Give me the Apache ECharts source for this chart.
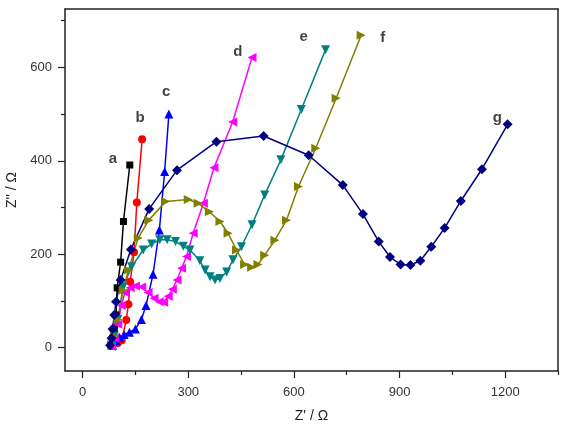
<!DOCTYPE html>
<html>
<head>
<meta charset="utf-8">
<script src="https://cdn.jsdelivr.net/npm/echarts@6/dist/echarts.min.js"></script>
<style>
    html, body {margin: 0; padding: 0; background: #fff;}
    #main {width: 564px; height: 430px;}
</style>
</head>
<body>
<div id="main"></div>
<script>
    // Z' / Z'' pairs
    var curveA = [[80, 5], [85, 20], [90, 40], [95, 70], [98, 128], [108, 183], [116, 270], [134, 391]];
    var curveB = [[85, 5], [100, 10], [111, 16], [124, 59], [130, 93], [135, 141], [146, 204], [154, 311], [169, 446]];
    var curveC = [[85, 5], [95, 15], [105, 22], [118, 28], [133, 33], [150, 40], [167, 60], [180, 90], [200, 157],
        [218, 252], [233, 377], [245, 500]];
    var curveD = [[82, 3], [90, 20], [100, 50], [110, 90], [120, 118], [135, 128], [150, 132], [168, 130], [186, 118],
        [203, 106], [218, 98], [230, 97], [243, 110], [255, 125], [268, 145], [281, 170], [295, 195], [314, 245],
        [343, 309], [373, 385], [426, 483], [481, 621]];
    var curveE = [[82, 5], [90, 25], [100, 60], [115, 130], [139, 173], [172, 209], [196, 222], [219, 231], [240, 231],
        [264, 227], [286, 217], [305, 209], [333, 186], [348, 166], [362, 152], [376, 145], [390, 148], [409, 162],
        [427, 188], [451, 216], [481, 263], [517, 327], [563, 402], [621, 510], [690, 638]];
    var curveF = [[82, 5], [90, 25], [100, 60], [115, 123], [130, 166], [158, 235], [188, 273], [236, 313], [300, 317],
        [328, 309], [360, 291], [390, 270], [413, 245], [437, 209], [460, 178], [480, 172], [498, 178], [517, 198],
        [546, 230], [579, 273], [613, 345], [662, 427], [720, 534], [791, 669]];
    var curveG = [[78, 5], [82, 20], [85, 40], [90, 70], [95, 98], [108, 145], [137, 210], [189, 297], [268, 380],
        [380, 441], [514, 453], [642, 412], [739, 348], [796, 286], [841, 227], [873, 194], [903, 178], [931, 177],
        [959, 186], [990, 216], [1028, 256], [1074, 314], [1134, 382], [1207, 478]];

    var curveNames = ['a', 'b', 'c', 'd', 'e', 'f', 'g'];
    var tagPos = [[86, 404], [163, 493], [237, 547], [441, 633], [628, 665], [852, 663], [1178, 491]];

    var xMajor = [0, 300, 600, 900, 1200];
    var xMinor = [150, 450, 750, 1050, 1350];
    var yMajor = [0, 200, 400, 600];
    var yMinor = [100, 300, 500, 700];

    var chart = echarts.init(document.getElementById('main'));

    function curve(name, data, color, symbol, size, rotate) {
        return {
            name: name, type: 'line', data: data,
            xAxisIndex: 0, yAxisIndex: 0,
            symbol: symbol, symbolSize: size, symbolRotate: rotate || 0,
            showAllSymbol: true,
            lineStyle: {color: color, width: 1.5},
            itemStyle: {color: color},
            animation: false
        };
    }

    var plain = {show: false};
    var font = 'Liberation Sans, Arial, sans-serif';
    var lbl = {fontFamily: font, fontSize: 13, color: '#333', formatter: function (v) { return String(v); }};
    var edge = {onZero: false, lineStyle: {color: '#222', width: 1.5}};

    chart.setOption({
        animation: false,
        grid: {left: 65, right: 6, top: 9, bottom: 59, containLabel: false, outerBoundsMode: 'none'},
        xAxis: [
            {
                type: 'value', min: -50, max: 1350, position: 'bottom',
                name: "Z' / Ω", nameLocation: 'middle', nameGap: 38,
                nameTextStyle: {fontFamily: font, fontSize: 14, color: '#222'},
                axisLine: edge,
                axisTick: {show: true, length: 7, customValues: xMajor, lineStyle: {color: '#222', width: 1.2}},
                axisLabel: Object.assign({customValues: xMajor, margin: 15}, lbl),
                splitLine: plain
            },
            {
                type: 'value', min: -50, max: 1350, position: 'top',
                axisLine: edge,
                axisTick: plain, axisLabel: plain, splitLine: plain
            },
            {
                type: 'value', min: -50, max: 1350, position: 'bottom',
                axisLine: {show: false, onZero: false},
                axisTick: {show: true, length: 4, customValues: xMinor, lineStyle: {color: '#222', width: 1.2}},
                axisLabel: plain, splitLine: plain
            }
        ],
        yAxis: [
            {
                type: 'value', min: -50, max: 725, position: 'left',
                name: "Z'' / Ω", nameLocation: 'middle', nameGap: 44,
                nameTextStyle: {fontFamily: font, fontSize: 14, color: '#222'},
                axisLine: edge,
                axisTick: {show: true, length: 7, customValues: yMajor, lineStyle: {color: '#222', width: 1.2}},
                axisLabel: Object.assign({customValues: yMajor, margin: 13}, lbl),
                splitLine: plain
            },
            {
                type: 'value', min: -50, max: 725, position: 'right',
                axisLine: edge,
                axisTick: plain, axisLabel: plain, splitLine: plain
            },
            {
                type: 'value', min: -50, max: 725, position: 'left',
                axisLine: {show: false, onZero: false},
                axisTick: {show: true, length: 4, customValues: yMinor, lineStyle: {color: '#222', width: 1.2}},
                axisLabel: plain, splitLine: plain
            }
        ],
        series: [
            curve('a', curveA, '#000000', 'rect', 7),
            curve('b', curveB, '#ff0000', 'circle', 8),
            curve('c', curveC, '#0000ff', 'triangle', 9),
            curve('d', curveD, '#ff00ff', 'triangle', 9, 90),
            curve('e', curveE, '#008080', 'triangle', 9, 180),
            curve('f', curveF, '#808000', 'triangle', 9, -90),
            curve('g', curveG, '#000080', 'diamond', 10),
            {
                type: 'scatter', symbolSize: 0, silent: true,
                data: tagPos.map(function (p, i) {
                    return {value: p, label: {formatter: curveNames[i]}};
                }),
                label: {
                    show: true, position: 'inside',
                    fontFamily: font, fontSize: 15, fontWeight: 'bold', color: '#111'
                }
            }
        ]
    });
</script>
</body>
</html>
